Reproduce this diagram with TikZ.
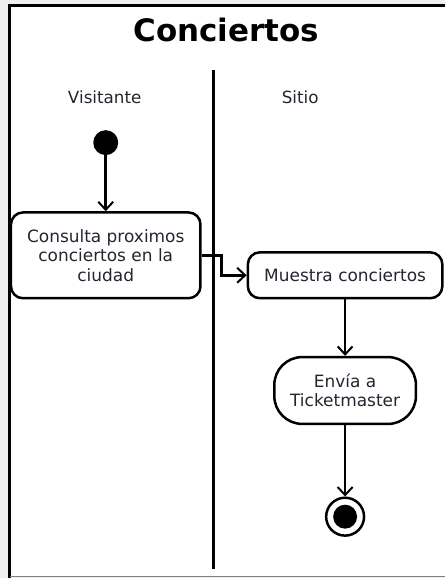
\documentclass[tikz,border=0pt]{standalone}
\usepackage{fontspec}
\setmainfont{DejaVu Sans}
\usetikzlibrary{arrows.meta,shapes.misc}
\definecolor{bggray}{HTML}{EFEFEF}
\definecolor{txt}{HTML}{2A2230}
\tikzset{
  act/.style={draw=black, line width=2.5pt, rounded corners=12pt, fill=white, align=center,
    font=\fontsize{17}{19.5}\selectfont, text=txt, inner sep=0pt},
  flow/.style={draw=black, line width=2.5pt, -{Straight Barb[length=8pt,width=15pt,line width=2pt]}},
  lanelabel/.style={font=\fontsize{16.8}{18}\selectfont, text=txt},
}
\begin{document}
\begin{tikzpicture}[x=1pt,y=-1pt]
  \fill[bggray] (0,0) rectangle (446,579);
  \fill[white] (10,6) rectangle (446,578);
  \draw[black, line width=3pt] (10,579) -- (10,6) -- (446,6);
  \draw[gray, line width=1.5pt] (10,578) -- (446,578);
  \useasboundingbox (0,0) rectangle (446,579);

  \node[font=\bfseries\fontsize{31}{34}\selectfont] (title) at (227,30) {Conciertos};
  \coordinate (laneTop) at (214,70);
  \coordinate (laneBot) at (214,570);
  \draw[line width=3pt] (laneTop) -- (laneBot);
  \node[lanelabel] (vis) at (105,98) {Visitante};
  \node[lanelabel] (sit) at (301,98) {Sitio};

  \node[circle, fill=black, minimum size=25pt, inner sep=0pt] (start) at (106,143) {};
  \node[act, minimum width=190pt, minimum height=86pt] (b1) at (106,256)
    {Consulta proximos\\conciertos en la\\ciudad};
  \node[act, minimum width=195pt, minimum height=46pt] (b2) at (346,276) {Muestra conciertos};
  \node[act, rounded corners=28pt, minimum width=142pt, minimum height=67pt] (b3) at (346,391.5)
    {Envía a\\Ticketmaster};
  \node[circle, draw=black, line width=2.5pt, fill=white, minimum size=38pt, inner sep=0pt] (end) at (346,518) {};
  \node[circle, fill=black, minimum size=24pt, inner sep=0pt] (endin) at (end.center) {};

  \draw[flow] (start) -- (b1.north);
  \coordinate (bend) at ([xshift=20pt]b1.east);
  \draw[flow] (b1.east) -- (bend) |- (b2.west);
  \draw[flow] (b2.south) -- (b3.north);
  \draw[flow] (b3.south) -- (end.north);
\end{tikzpicture}
\end{document}
